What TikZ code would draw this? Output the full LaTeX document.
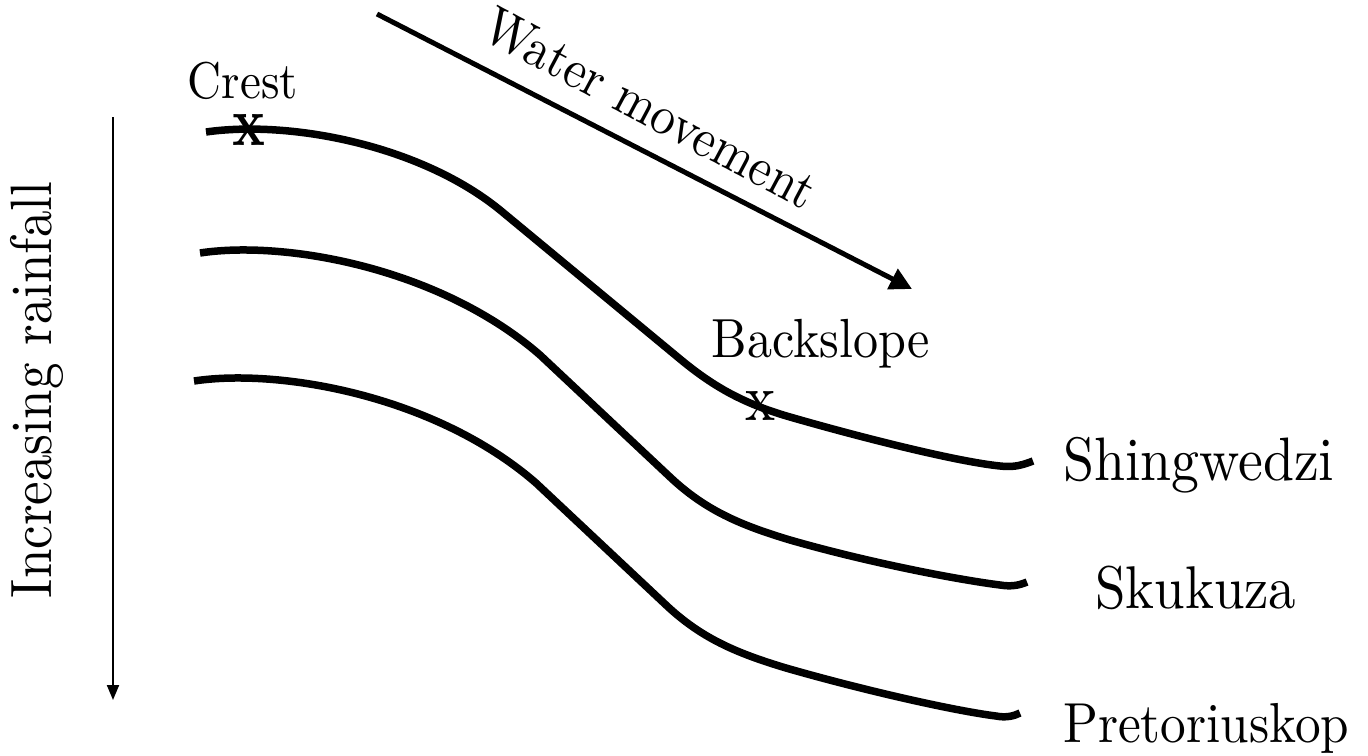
\documentclass[tikz,border=0pt]{standalone}
\usetikzlibrary{arrows.meta}
\newcommand{\fitw}[2]{\scalebox{1}[1.1]{\resizebox{#1}{!}{#2}}}
\begin{document}
\begin{tikzpicture}[x=1bp,y=-1bp,
  profile/.style={line width=7.5bp, line cap=butt, line join=round},
  lbl/.style={inner sep=0pt},
  flowarrow/.style={line width=5bp, -{Triangle[length=22bp,width=22bp]}},
  rainarrow/.style={line width=2bp, -{Triangle[length=15bp,width=12bp]}}]
\useasboundingbox (0,0) rectangle (1368,755);

% profiles
\draw[profile] (206,132) .. controls (290,120) and (420,145) .. (500,210)
  -- (680,359) .. controls (715,388) and (745,404) .. (790,417)
  .. controls (870,440) and (960,462) .. (1000,466)
  .. controls (1015,468) and (1025,464) .. (1033,461);
\draw[profile] (200,253) .. controls (285,240) and (440,268) .. (540,355)
  -- (670,477) .. controls (705,510) and (740,525) .. (790,540)
  .. controls (870,563) and (960,580) .. (1000,585)
  .. controls (1012,587) and (1020,585) .. (1027,582);
\draw[profile] (194,381) .. controls (280,368) and (436,396) .. (536,483)
  -- (666,605) .. controls (701,638) and (736,653) .. (786,668)
  .. controls (866,691) and (956,711) .. (996,716)
  .. controls (1006,718) and (1014,716) .. (1020,713);

% labels
\node[lbl, anchor=base west] (shing) at (1063,480) {\fitw{271bp}{Shingwedzi}};
\node[lbl, anchor=base west] (sku) at (1095,608) {\fitw{201bp}{Skukuza}};
\node[lbl, anchor=base west] (pret) at (1063,742) {\fitw{286bp}{Pretoriuskop}};
\node[lbl, anchor=base] (crest) at (243,98) {\fitw{110bp}{Crest}};
\node[lbl, anchor=base] (back) at (821,357) {\fitw{218bp}{Backslope}};
\node[lbl, anchor=base] (cx) at (249,145) {\resizebox{33bp}{31bp}{\bfseries x}};
\node[lbl, anchor=base] (bx) at (760,420) {\resizebox{30bp}{29bp}{x}};
\node[lbl, rotate=90, anchor=base] (rain) at (51,390) {\fitw{416bp}{Increasing rainfall}};
\node[lbl, rotate=-28] (water) at (650,108) {\fitw{368bp}{Water movement}};

% arrows
\coordinate (wa) at (377,14);
\coordinate (wb) at (912,289);
\draw[flowarrow] (wa) -- (wb);
\coordinate (ra) at (113,117);
\coordinate (rb) at (113,700);
\draw[rainarrow] (ra) -- (rb);
\end{tikzpicture}
\end{document}
